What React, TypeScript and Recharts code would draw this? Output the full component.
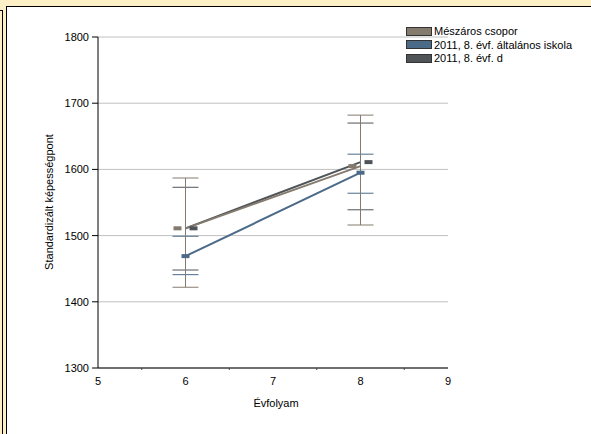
import React from "react";
import { ComposedChart, Line, XAxis, YAxis, CartesianGrid, ErrorBar } from "recharts";

const grades = [6, 8];
const meszarosMean = [1511, 1605];
const meszarosLow = [1422, 1516];
const meszarosHigh = [1587, 1682];
const iskolaMean = [1469, 1595];
const iskolaLow = [1441, 1564];
const iskolaHigh = [1499, 1623];
const dMean = [1511, 1611];
const dLow = [1448, 1539];
const dHigh = [1573, 1670];

const xTicks = [5, 5.5, 6, 6.5, 7, 7.5, 8, 8.5, 9];
const yTicks = [1300, 1400, 1500, 1600, 1700, 1800];

const seriesNames = ["Mészáros csopor", "2011, 8. évf. általános iskola", "2011, 8. évf. d"];
const COLORS = ["#857a6e", "#4b6a88", "#4f5459"];

const data = grades.map((g, i) => ({
  x: g,
  m: meszarosMean[i],
  mErr: [meszarosMean[i] - meszarosLow[i], meszarosHigh[i] - meszarosMean[i]],
  s: iskolaMean[i],
  sErr: [iskolaMean[i] - iskolaLow[i], iskolaHigh[i] - iskolaMean[i]],
  d: dMean[i],
  dErr: [dMean[i] - dLow[i], dHigh[i] - dMean[i]],
}));

const FONT = "'Liberation Sans', Arial, sans-serif";

const makeDot = (color: string, offset: number) => (props: any) => {
  const { cx, cy, index } = props;
  if (cx == null || cy == null) return <g key={`e${index}`} />;
  return <rect key={`d${index}`} x={cx + offset - 4} y={cy - 2} width={8} height={4} fill={color} />;
};

const XTick = (props: any) => {
  const { x, y, payload } = props;
  const v = payload.value;
  if (Number.isInteger(v)) {
    return (
      <text x={x} y={y} dy={17} textAnchor="middle" fontSize={11} fontFamily={FONT} fill="#000">
        {v}
      </text>
    );
  }
  return <line x1={x} x2={x} y1={y} y2={y + 2} stroke="#444" strokeWidth={1} />;
};

export default function App() {
  return (
    <div style={{ position: "absolute", left: 0, top: 0, width: 591, height: 434, background: "#fdefc6", overflow: "hidden" }}>
      <div style={{ position: "absolute", left: 2, top: 10, width: 1, height: 424, background: "#000" }} />
      <div style={{ position: "absolute", left: 0, top: 10, width: 3, height: 1, background: "#000" }} />
      <div
        style={{
          position: "absolute",
          left: 6,
          top: 6,
          width: 585,
          height: 428,
          background: "#fff",
          borderLeft: "1px solid #000",
          borderTop: "1px solid #000",
          boxSizing: "border-box",
        }}
      />
      <div style={{ position: "absolute", left: 0, top: 0 }}>
        <ComposedChart width={591} height={434} data={data} margin={{ top: 37, right: 143, bottom: 36, left: 0 }}>
          <CartesianGrid vertical={false} stroke="#c0c0c0" />
          <XAxis
            type="number"
            dataKey="x"
            domain={[5, 9]}
            ticks={xTicks}
            interval={0}
            tick={<XTick />}
            tickLine={false}
            tickSize={0}
            tickMargin={0}
            height={30}
            axisLine={{ stroke: "#000" }}
            label={{
              content: (p: any) => (
                <text x={276} y={407} textAnchor="middle" fontSize={11} fontFamily={FONT} fill="#000">
                  Évfolyam
                </text>
              ),
            }}
          />
          <YAxis
            type="number"
            domain={[1300, 1800]}
            ticks={yTicks}
            interval={0}
            allowDataOverflow
            width={98}
            tickSize={6}
            tickMargin={3}
            tick={{ fontSize: 11, fontFamily: FONT, fill: "#000" }}
            tickLine={{ stroke: "#000" }}
            axisLine={{ stroke: "#000" }}
            label={{
              content: (p: any) => (
                <text
                  x={53}
                  y={202}
                  textAnchor="middle"
                  fontSize={11}
                  fontFamily={FONT}
                  fill="#000"
                  transform="rotate(-90 53 202)"
                >
                  Standardizált képességpont
                </text>
              ),
            }}
          />
          <Line
            dataKey="s"
            stroke={COLORS[1]}
            strokeWidth={2}
            dot={makeDot(COLORS[1], 0)}
            activeDot={false}
            isAnimationActive={false}
          >
            <ErrorBar dataKey="sErr" direction="y" width={13} stroke={COLORS[1]} strokeWidth={1} isAnimationActive={false} />
          </Line>
          <Line
            dataKey="d"
            stroke={COLORS[2]}
            strokeWidth={2}
            dot={makeDot(COLORS[2], 8)}
            activeDot={false}
            isAnimationActive={false}
          >
            <ErrorBar dataKey="dErr" direction="y" width={13} stroke={COLORS[2]} strokeWidth={1} isAnimationActive={false} />
          </Line>
          <Line
            dataKey="m"
            stroke={COLORS[0]}
            strokeWidth={2}
            dot={makeDot(COLORS[0], -8)}
            activeDot={false}
            isAnimationActive={false}
          >
            <ErrorBar dataKey="mErr" direction="y" width={13} stroke={COLORS[0]} strokeWidth={1} isAnimationActive={false} />
          </Line>
        </ComposedChart>
      </div>
      {seriesNames.map((name, i) => (
        <div key={name} style={{ position: "absolute", left: 406, top: 24 + i * 13.5, height: 14, display: "flex", alignItems: "center" }}>
          <div style={{ width: 24, height: 7, background: COLORS[i], border: "1px solid #333" }} />
          <span style={{ marginLeft: 2, fontSize: 11, fontFamily: FONT, color: "#000", whiteSpace: "nowrap" }}>{name}</span>
        </div>
      ))}
    </div>
  );
}
